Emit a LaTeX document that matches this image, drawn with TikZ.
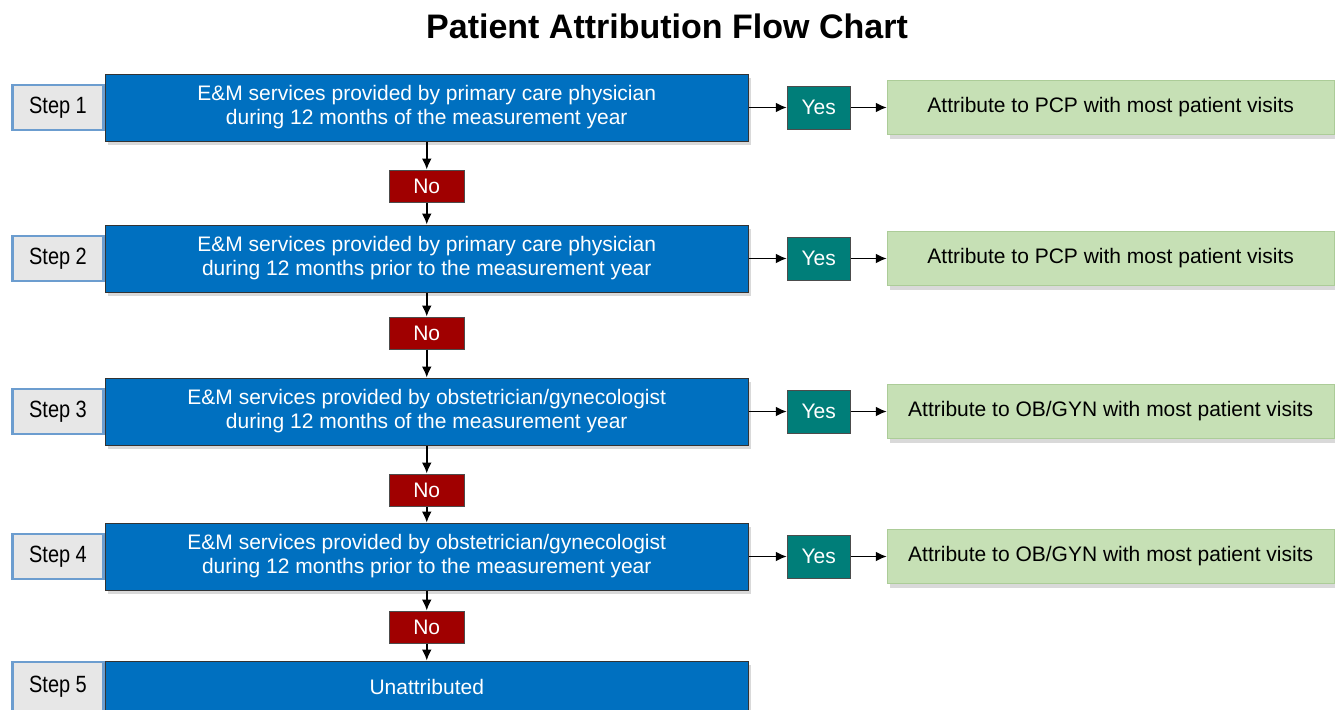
\documentclass[tikz,border=0pt]{standalone}
\usepackage{fontspec}
\setmainfont{Liberation Sans}
\newfontfamily\stepfont[FakeStretch=0.85]{Liberation Sans}
\usetikzlibrary{shadows,positioning,arrows.meta}

\definecolor{servblue}{RGB}{0,112,192}
\definecolor{stepgray}{RGB}{231,231,231}
\definecolor{stepedge}{RGB}{108,157,207}
\definecolor{nored}{RGB}{160,0,0}
\definecolor{yesteal}{RGB}{0,126,121}
\definecolor{attrgreen}{RGB}{198,224,181}
\definecolor{attredge}{RGB}{172,204,152}

\tikzstyle{stepbox}=[rectangle,
                                    line width=2.5pt,
                                    minimum width=91pt,
                                    minimum height=45pt,
                                    draw=stepedge,
                                    fill=stepgray,
                                    font=\stepfont\fontsize{23.5}{26}\selectfont]
\tikzstyle{service}=[rectangle,
                                    line width=1pt,
                                    minimum height=67pt,
                                    minimum width=643pt,
                                    align=center,
                                    draw=black!80,
                                    fill=servblue,
                                    text=white,
                                    font=\fontsize{21}{24}\selectfont,
                                    drop shadow={shadow xshift=3pt,shadow yshift=-4pt,opacity=0.3}]
\tikzstyle{decno}=[rectangle,
                                    line width=1pt,
                                    minimum height=32pt,
                                    minimum width=75pt,
                                    draw=black!70,
                                    fill=nored,
                                    text=white,
                                    font=\fontsize{21}{24}\selectfont]
\tikzstyle{decyes}=[rectangle,
                                    line width=1pt,
                                    minimum height=43pt,
                                    minimum width=63pt,
                                    draw=black!70,
                                    fill=yesteal,
                                    text=white,
                                    font=\fontsize{21}{24}\selectfont]
\tikzstyle{attribute}=[rectangle,
                                    line width=0.8pt,
                                    minimum height=54pt,
                                    minimum width=447pt,
                                    draw=attredge,
                                    fill=attrgreen,
                                    font=\fontsize{21}{24}\selectfont,
                                    drop shadow={shadow xshift=3pt,shadow yshift=-4pt,opacity=0.3}]

\begin{document}
\begin{tikzpicture}[x=1pt,y=1pt,>={Latex[length=11pt,width=10pt]}]
  \useasboundingbox (0,0) rectangle (1335,-709);
  \clip (0,0) rectangle (1335,-709);

  % Title
  \node (title) at (667,-26) {\fontsize{34}{40}\selectfont\bfseries Patient Attribution Flow Chart};

  % Steps with their decisions, placed one below the other:
  \node (step1) [stepbox] at (58,-107.5) {Step 1};
  \node (serv1) [service,right=0pt of step1] {E\&M services provided by primary care physician\\during 12 months of the measurement year};
  \node (no1) [decno,below=28pt of serv1] {No};

  \node (serv2) [service,below=22pt of no1] {E\&M services provided by primary care physician\\during 12 months prior to the measurement year};
  \node (step2) [stepbox,left=0pt of serv2] {Step 2};
  \node (no2) [decno,below=24pt of serv2] {No};

  \node (serv3) [service,below=28pt of no2] {E\&M services provided by obstetrician/gynecologist\\during 12 months of the measurement year};
  \node (step3) [stepbox,left=0pt of serv3] {Step 3};
  \node (no3) [decno,below=28pt of serv3] {No};

  \node (serv4) [service,below=16pt of no3] {E\&M services provided by obstetrician/gynecologist\\during 12 months prior to the measurement year};
  \node (step4) [stepbox,left=0pt of serv4] {Step 4};
  \node (no4) [decno,below=20pt of serv4] {No};

  \node (serv5) [service,minimum height=52pt,below=17pt of no4] {Unattributed};
  \node (step5) [stepbox,minimum height=50pt,left=0pt of serv5] {Step 5};

  % The "Yes" outcomes on the right:
  \node (yes1) [decyes,right=38pt of serv1] {Yes};
  \node (attr1) [attribute,right=36pt of yes1] {Attribute to PCP with most patient visits};
  \node (yes2) [decyes,right=38pt of serv2] {Yes};
  \node (attr2) [attribute,right=36pt of yes2] {Attribute to PCP with most patient visits};
  \node (yes3) [decyes,right=38pt of serv3] {Yes};
  \node (attr3) [attribute,right=36pt of yes3] {Attribute to OB/GYN with most patient visits};
  \node (yes4) [decyes,right=38pt of serv4] {Yes};
  \node (attr4) [attribute,right=36pt of yes4] {Attribute to OB/GYN with most patient visits};

  % Connect the boxes with arrows:
  \path[->,line width=1.8pt]
      (serv1) edge (yes1)
      (yes1) edge (attr1)
      (serv2) edge (yes2)
      (yes2) edge (attr2)
      (serv3) edge (yes3)
      (yes3) edge (attr3)
      (serv4) edge (yes4)
      (yes4) edge (attr4)

      (serv1) edge (no1)
      (no1) edge (serv2)
      (serv2) edge (no2)
      (no2) edge (serv3)
      (serv3) edge (no3)
      (no3) edge (serv4)
      (serv4) edge (no4)
      (no4) edge (serv5)
      ;

\end{tikzpicture}
\end{document}
